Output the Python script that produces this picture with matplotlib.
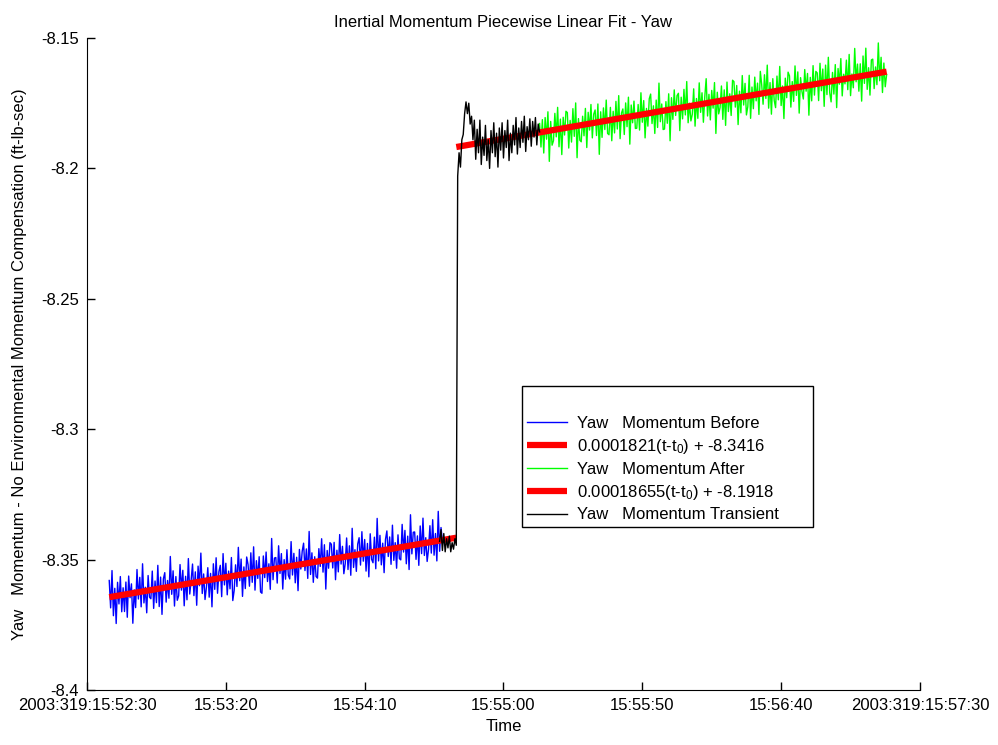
"""
Inertial momentum piecewise linear fit - yaw.
"""
import matplotlib
matplotlib.use("Agg")
import matplotlib.pyplot as plt
import numpy as np

plt.rcParams['font.family'] = ['Liberation Sans Narrow', 'Liberation Sans', 'DejaVu Sans']
plt.rcParams['mathtext.default'] = 'regular'

# time axis: seconds after 2003:319:15:52:30
tick_pos = [0, 50, 100, 150, 200, 250, 300]
tick_labels = ["2003:319:15:52:30", "15:53:20", "15:54:10", "15:55:00",
               "15:55:50", "15:56:40", "2003:319:15:57:30"]
y_ticks = [-8.4, -8.35, -8.3, -8.25, -8.2, -8.15]

# yaw momentum before the event (t = 8 .. 128 s, every 0.5 s)
t_before = np.arange(8.0, 128.01, 0.5)
yaw_before = [
    -8.3580, -8.3685, -8.3542, -8.3715, -8.3610, -8.3745, -8.3587, -8.3670, -8.3565, -8.3700,
    -8.3608, -8.3699, -8.3586, -8.3721, -8.3563, -8.3646, -8.3593, -8.3744, -8.3616, -8.3684,
    -8.3538, -8.3651, -8.3568, -8.3681, -8.3516, -8.3666, -8.3606, -8.3704, -8.3561, -8.3644,
    -8.3650, -8.3544, -8.3687, -8.3582, -8.3665, -8.3522, -8.3680, -8.3567, -8.3710, -8.3574,
    -8.3550, -8.3663, -8.3580, -8.3648, -8.3488, -8.3633, -8.3543, -8.3678, -8.3565, -8.3656,
    -8.3639, -8.3519, -8.3617, -8.3541, -8.3677, -8.3564, -8.3654, -8.3496, -8.3632, -8.3579,
    -8.3517, -8.3638, -8.3547, -8.3675, -8.3525, -8.3600, -8.3475, -8.3630, -8.3555, -8.3653,
    -8.3606, -8.3531, -8.3644, -8.3553, -8.3681, -8.3516, -8.3614, -8.3493, -8.3629, -8.3546,
    -8.3522, -8.3642, -8.3477, -8.3597, -8.3514, -8.3635, -8.3544, -8.3612, -8.3492, -8.3657,
    -8.3618, -8.3520, -8.3603, -8.3453, -8.3581, -8.3498, -8.3641, -8.3528, -8.3611, -8.3490,
    -8.3519, -8.3602, -8.3474, -8.3587, -8.3451, -8.3617, -8.3504, -8.3572, -8.3489, -8.3624,
    -8.3629, -8.3486, -8.3569, -8.3471, -8.3584, -8.3516, -8.3614, -8.3419, -8.3577, -8.3494,
    -8.3492, -8.3590, -8.3447, -8.3553, -8.3477, -8.3613, -8.3500, -8.3575, -8.3462, -8.3560,
    -8.3574, -8.3431, -8.3559, -8.3476, -8.3589, -8.3491, -8.3619, -8.3461, -8.3536, -8.3468,
    -8.3437, -8.3542, -8.3459, -8.3572, -8.3392, -8.3557, -8.3474, -8.3587, -8.3489, -8.3565,
    -8.3571, -8.3458, -8.3526, -8.3420, -8.3548, -8.3443, -8.3613, -8.3465, -8.3533, -8.3435,
    -8.3441, -8.3532, -8.3434, -8.3577, -8.3464, -8.3547, -8.3404, -8.3517, -8.3449, -8.3554,
    -8.3515, -8.3417, -8.3538, -8.3447, -8.3560, -8.3380, -8.3530, -8.3462, -8.3545, -8.3440,
    -8.3416, -8.3521, -8.3393, -8.3506, -8.3423, -8.3544, -8.3438, -8.3566, -8.3401, -8.3499,
    -8.3512, -8.3414, -8.3535, -8.3342, -8.3505, -8.3407, -8.3520, -8.3437, -8.3550, -8.3422,
    -8.3390, -8.3488, -8.3413, -8.3518, -8.3368, -8.3503, -8.3435, -8.3533, -8.3405, -8.3496,
    -8.3501, -8.3365, -8.3471, -8.3388, -8.3516, -8.3410, -8.3538, -8.3328, -8.3478, -8.3395,
    -8.3394, -8.3499, -8.3409, -8.3522, -8.3371, -8.3477, -8.3341, -8.3484, -8.3416, -8.3507,
    -8.3460, -8.3370, -8.3475, -8.3347, -8.3483, -8.3400, -8.3505, -8.3315, -8.3468, -8.3377,
    -8.3430,
]

# transient: t = 127 .. 163 s, every 0.5 s (the jump happens at ~133 s)
t_trans = np.arange(127.0, 163.01, 0.5)
yaw_trans = [
    -8.3430, -8.3385, -8.3465, -8.3400, -8.3470, -8.3420, -8.3455, -8.3410, -8.3470, -8.3435,
    -8.3460, -8.3420, -8.3445,
    -8.2030, -8.1940, -8.1995, -8.1890, -8.1870, -8.1790, -8.1745, -8.1790, -8.1750, -8.1830,
    -8.1800, -8.1890, -8.1815, -8.1965, -8.1850, -8.1940, -8.1815, -8.1985, -8.1880, -8.1950,
    -8.1835, -8.1970, -8.1890, -8.2000, -8.1855, -8.1940, -8.1825, -8.1955, -8.1865, -8.1995,
    -8.1845, -8.1930, -8.1825, -8.1960, -8.1855, -8.1920, -8.1815, -8.1970, -8.1865, -8.1940,
    -8.1835, -8.1910, -8.1805, -8.1945, -8.1845, -8.1920, -8.1820, -8.1900, -8.1800, -8.1935,
    -8.1840, -8.1890, -8.1810, -8.1915, -8.1820, -8.1880, -8.1805, -8.1910, -8.1830, -8.1860,
]

# yaw momentum after the event (t = 163 .. 288 s, every 0.5 s)
t_after = np.arange(163.0, 288.01, 0.5)
yaw_after = [
    -8.1828, -8.1918, -8.1813, -8.1941, -8.1805, -8.1888, -8.1783, -8.1973, -8.1820, -8.1911,
    -8.1894, -8.1789, -8.1879, -8.1766, -8.1917, -8.1811, -8.1947, -8.1804, -8.1872, -8.1781,
    -8.1786, -8.1922, -8.1816, -8.1899, -8.1771, -8.1877, -8.1749, -8.1959, -8.1809, -8.1892,
    -8.1898, -8.1800, -8.1875, -8.1770, -8.1920, -8.1785, -8.1853, -8.1755, -8.1883, -8.1792,
    -8.1776, -8.1874, -8.1753, -8.1946, -8.1783, -8.1881, -8.1768, -8.1851, -8.1738, -8.1866,
    -8.1871, -8.1766, -8.1894, -8.1781, -8.1864, -8.1743, -8.1849, -8.1721, -8.1886, -8.1788,
    -8.1772, -8.1870, -8.1749, -8.1840, -8.1727, -8.1907, -8.1757, -8.1825, -8.1742, -8.1847,
    -8.1846, -8.1755, -8.1853, -8.1710, -8.1823, -8.1740, -8.1883, -8.1770, -8.1838, -8.1733,
    -8.1715, -8.1828, -8.1760, -8.1866, -8.1738, -8.1843, -8.1673, -8.1821, -8.1753, -8.1851,
    -8.1849, -8.1744, -8.1827, -8.1714, -8.1894, -8.1729, -8.1812, -8.1699, -8.1797, -8.1721,
    -8.1712, -8.1855, -8.1727, -8.1810, -8.1697, -8.1795, -8.1667, -8.1825, -8.1750, -8.1818,
    -8.1793, -8.1695, -8.1838, -8.1732, -8.1808, -8.1672, -8.1785, -8.1710, -8.1823, -8.1725,
    -8.1656, -8.1799, -8.1716, -8.1814, -8.1701, -8.1769, -8.1671, -8.1866, -8.1708, -8.1791,
    -8.1767, -8.1684, -8.1812, -8.1699, -8.1835, -8.1669, -8.1782, -8.1714, -8.1797, -8.1662,
    -8.1667, -8.1765, -8.1682, -8.1832, -8.1704, -8.1787, -8.1644, -8.1757, -8.1674, -8.1795,
    -8.1763, -8.1643, -8.1808, -8.1688, -8.1771, -8.1650, -8.1741, -8.1673, -8.1793, -8.1628,
    -8.1679, -8.1754, -8.1641, -8.1732, -8.1604, -8.1769, -8.1671, -8.1792, -8.1656, -8.1739,
    -8.1767, -8.1646, -8.1737, -8.1609, -8.1759, -8.1684, -8.1809, -8.1654, -8.1729, -8.1631,
    -8.1645, -8.1765, -8.1667, -8.1743, -8.1607, -8.1720, -8.1630, -8.1788, -8.1652, -8.1705,
    -8.1734, -8.1621, -8.1704, -8.1636, -8.1796, -8.1651, -8.1741, -8.1606, -8.1719, -8.1628,
    -8.1634, -8.1740, -8.1597, -8.1702, -8.1619, -8.1762, -8.1604, -8.1717, -8.1574, -8.1710,
    -8.1745, -8.1632, -8.1715, -8.1602, -8.1767, -8.1617, -8.1677, -8.1579, -8.1722, -8.1639,
    -8.1676, -8.1585, -8.1698, -8.1563, -8.1721, -8.1638, -8.1691, -8.1540, -8.1668, -8.1600,
    -8.1704, -8.1599, -8.1742, -8.1569, -8.1674, -8.1539, -8.1697, -8.1614, -8.1719, -8.1584,
    -8.1581, -8.1694, -8.1611, -8.1679, -8.1519, -8.1664, -8.1574, -8.1709, -8.1596, -8.1687,
    -8.1640,
]

# linear fits (end points of each segment)
fit_before_t = [8.0, 133.0]
fit_before_y = [-8.3644, -8.3416]
fit_after_t = [133.0, 288.0]
fit_after_y = [-8.1918, -8.1629]

fig = plt.figure(figsize=(9.98, 7.45), dpi=100)
ax = fig.add_axes([0.0872, 0.0738, 0.8346, 0.8752])

ax.plot(t_before, yaw_before, color=(0, 0, 1), lw=1.0, label="Yaw   Momentum Before")
ax.plot(fit_before_t, fit_before_y, color=(1, 0, 0), lw=4.5, solid_capstyle='butt',
        label="0.0001821(t-t$_0$) + -8.3416")
ax.plot(t_after, yaw_after, color=(0, 1, 0), lw=1.0, label="Yaw   Momentum After")
ax.plot(fit_after_t, fit_after_y, color=(1, 0, 0), lw=4.5, solid_capstyle='butt',
        label="0.00018655(t-t$_0$) + -8.1918")
ax.plot(t_trans, yaw_trans, color='black', lw=1.0, label="Yaw   Momentum Transient")

ax.set_xlim(0, 300)
ax.set_ylim(-8.4, -8.15)
ax.set_xticks(tick_pos)
ax.set_xticklabels(tick_labels)
ax.set_yticks(y_ticks)
ax.set_yticklabels([("%g" % v) for v in y_ticks])
ax.tick_params(direction='in', length=6, labelsize=12, width=1, pad=6)

# MATLAB style "box off"
ax.spines['top'].set_visible(False)
ax.spines['right'].set_visible(False)

ax.set_title("Inertial Momentum Piecewise Linear Fit - Yaw", fontsize=12, pad=8)
ax.set_xlabel("Time", fontsize=12, labelpad=4)
ax.set_ylabel("Yaw   Momentum - No Environmental Momentum Compensation (ft-lb-sec)",
              fontsize=12, labelpad=10)

# legend box stretched to the width of the original one
leg = ax.legend(loc='upper left', bbox_to_anchor=(0.522, 0.248, 0.349, 0.218),
                mode='expand', fontsize=12, frameon=True, fancybox=False,
                framealpha=1, edgecolor='black', handlelength=2.4,
                handletextpad=0.6, borderpad=0.3, labelspacing=0.35,
                title=" ", title_fontsize=15, borderaxespad=0)
leg.get_frame().set_linewidth(1.0)

fig.savefig("out.png", dpi=100)
